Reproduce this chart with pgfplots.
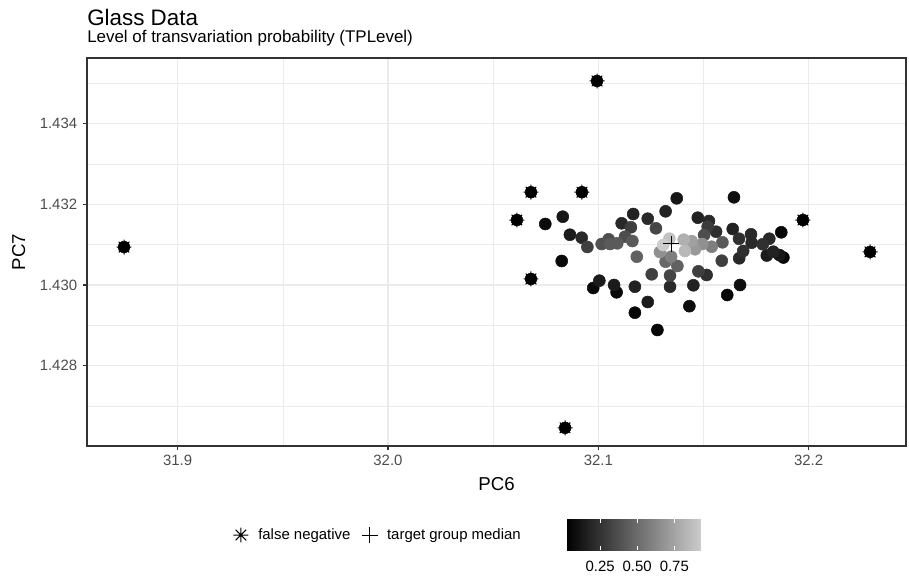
\documentclass[border=0pt]{standalone}
\usepackage{fontspec}
\setmainfont{Liberation Sans}
\usepackage{pgfplots}
\pgfplotsset{compat=1.18}
\usepackage{pgfplotstable}
\definecolor{gray92}{HTML}{EBEBEB}
\definecolor{gray20}{HTML}{333333}
\definecolor{gray30}{HTML}{4D4D4D}

\pgfdeclareplotmark{ggast}{%
  \pgfpathmoveto{\pgfqpoint{-\pgfplotmarksize}{0pt}}%
  \pgfpathlineto{\pgfqpoint{\pgfplotmarksize}{0pt}}%
  \pgfpathmoveto{\pgfqpoint{0pt}{-\pgfplotmarksize}}%
  \pgfpathlineto{\pgfqpoint{0pt}{\pgfplotmarksize}}%
  \pgfpathmoveto{\pgfqpoint{-0.7071\pgfplotmarksize}{-0.7071\pgfplotmarksize}}%
  \pgfpathlineto{\pgfqpoint{0.7071\pgfplotmarksize}{0.7071\pgfplotmarksize}}%
  \pgfpathmoveto{\pgfqpoint{-0.7071\pgfplotmarksize}{0.7071\pgfplotmarksize}}%
  \pgfpathlineto{\pgfqpoint{0.7071\pgfplotmarksize}{-0.7071\pgfplotmarksize}}%
  \pgfusepathqstroke}

\pgfplotstableread{
x y t
32.1870 1.431306 0.05
32.1880 1.430681 0.05
32.1613 1.429752 0.05
32.1174 1.429314 0.05
32.1281 1.428885 0.05
32.0826 1.430595 0.06
32.0976 1.429926 0.06
32.1087 1.429819 0.06
32.0748 1.431512 0.07
32.1645 1.432173 0.08
32.1674 1.430000 0.08
32.1433 1.429475 0.08
32.1373 1.432148 0.12
32.0831 1.431693 0.12
32.1861 1.430743 0.12
32.0865 1.431246 0.14
32.1801 1.430731 0.14
32.1005 1.430107 0.14
32.1075 1.430000 0.14
32.1235 1.429579 0.14
32.1166 1.431759 0.17
32.1320 1.431826 0.17
32.1473 1.431668 0.17
32.1639 1.431388 0.17
32.1832 1.430825 0.17
32.1174 1.429958 0.17
32.1452 1.429993 0.17
32.1235 1.431643 0.20
32.1111 1.431529 0.20
32.1526 1.431586 0.20
32.1726 1.431256 0.20
32.1813 1.431147 0.20
32.0921 1.431172 0.20
32.1670 1.430662 0.20
32.1729 1.431048 0.20
32.1341 1.429958 0.20
32.1560 1.431321 0.23
32.1669 1.431147 0.23
32.1689 1.430843 0.23
32.1782 1.431009 0.23
32.1515 1.430248 0.23
32.1520 1.431445 0.28
32.1155 1.431430 0.30
32.0948 1.430942 0.30
32.1587 1.430602 0.30
32.1254 1.430265 0.30
32.1476 1.430339 0.30
32.1274 1.431405 0.33
32.1341 1.430235 0.33
32.1503 1.431239 0.36
32.1049 1.431132 0.36
32.1127 1.431197 0.36
32.1016 1.431016 0.38
32.1056 1.431016 0.42
32.1090 1.431033 0.42
32.1162 1.431090 0.42
32.1590 1.431058 0.42
32.1183 1.430701 0.45
32.1376 1.430471 0.45
32.1320 1.430577 0.48
32.1346 1.430701 0.58
32.1539 1.430949 0.58
32.1293 1.430818 0.66
32.1494 1.431016 0.66
32.1460 1.430885 0.70
32.1444 1.431085 0.73
32.1406 1.431123 0.80
32.1412 1.430843 0.84
32.1338 1.431147 0.88
32.1309 1.430991 0.93
}\pts

\pgfplotstableread{
x y
31.8745 1.430940
32.0994 1.435056
32.0680 1.432300
32.0922 1.432300
32.0613 1.431610
32.0680 1.430150
32.0842 1.426460
32.1973 1.431610
32.2292 1.430820
}\fneg

\begin{document}
\begin{tikzpicture}
\useasboundingbox (0,0) rectangle (681.75pt,433.5pt);
\begin{axis}[
  at={(65.25pt,99pt)}, anchor=south west,
  scale only axis, width=614.25pt, height=291pt,
  xmin=31.8569, xmax=32.2463, ymin=1.42601, ymax=1.435626,
  xtick={31.9,32.0,32.1,32.2}, xticklabels={31.9,32.0,32.1,32.2},
  ytick={1.428,1.430,1.432,1.434}, yticklabels={1.428,1.430,1.432,1.434},
  minor xtick={31.95,32.05,32.15}, minor ytick={1.427,1.429,1.431,1.433,1.435},
  grid=both,
  major grid style={color=gray92, line width=0.9pt},
  minor grid style={color=gray92, line width=0.45pt},
  axis line style={color=gray20, line width=0.8pt},
  tick align=outside, xtick pos=bottom, ytick pos=left,
  major tick length=2.7pt, minor tick length=0pt,
  major tick style={color=gray20, line width=0.8pt},
  ticklabel style={font=\fontsize{11.2}{13}\selectfont, color=gray30, inner sep=0pt},
  xticklabel style={yshift=-4pt},
  yticklabel style={xshift=-4.5pt},
  scaled ticks=false,
  colormap={ggray}{gray(0cm)=(0); gray(1cm)=(0.8)},
  point meta min=0.02, point meta max=0.93,
  colorbar horizontal,
  colorbar/width=23.25pt,
  colorbar style={
    at={(parent axis.south west)}, anchor=north west,
    xshift=359.25pt, yshift=-46.5pt,
    scale only axis, width=101.25pt, height=23.25pt,
    xtick={0.25,0.5,0.75}, xticklabels={0.25,0.50,0.75},
    xticklabel pos=lower, xtick pos=both,
    tick align=inside, major tick length=3pt,
    major tick style={color=white, line width=0.6pt},
    axis line style={draw=none},
    axis on top,
    xticklabel style={font=\fontsize{11.2}{13}\selectfont, color=black, inner sep=0pt, yshift=-7.5pt},
  },
  legend columns=2,
  legend cell align=left,
  legend image code/.code={\path[draw=none,fill=none] (-8pt,-1pt) rectangle (8pt,1pt); \draw[#1] plot coordinates {(0pt,0pt)};},
  legend style={
    at={(0.1746,-0.2294)}, anchor=west,
    draw=none, fill=none, inner sep=0pt,
    font=\fontsize{11.2}{13}\selectfont,
    nodes={inner sep=0pt},
    /tikz/every odd column/.append style={column sep=5pt},
    /tikz/every even column/.append style={column sep=6.5pt},
  },
]
\addplot[scatter, only marks, mark=*, mark size=4.5pt,
  scatter/use mapped color={draw=mapped color, fill=mapped color},
  point meta=\thisrow{t}, forget plot] table[x=x, y=y] {\pts};
\addplot[only marks, mark=*, mark size=4.4pt, color=black, forget plot] table[x=x, y=y] {\fneg};
\addplot[only marks, mark=ggast, mark size=5.6pt, color=black, line width=0.75pt] table[x=x, y=y] {\fneg};
\addlegendentry{false negative}
\addplot[only marks, mark=+, mark size=6pt, color=black, line width=0.7pt] coordinates {(32.1346,1.43102)};
\addlegendentry{target group median}
\end{axis}
\node[anchor=base west, inner sep=0pt, font=\fontsize{16.8}{20}\selectfont] at (65.25pt,414.3pt) {Glass Data};
\node[anchor=base west, inner sep=0pt, font=\fontsize{12.7}{15}\selectfont] at (65.25pt,401.5pt) {Level of transvariation probability (TPLevel)};
\node[anchor=base, inner sep=0pt, font=\fontsize{14}{16}\selectfont] at (372.4pt,66pt) {PC6};
\node[anchor=base, inner sep=0pt, rotate=90, font=\fontsize{14}{16}\selectfont] at (18.75pt,244.5pt) {PC7};
\end{tikzpicture}
\end{document}
